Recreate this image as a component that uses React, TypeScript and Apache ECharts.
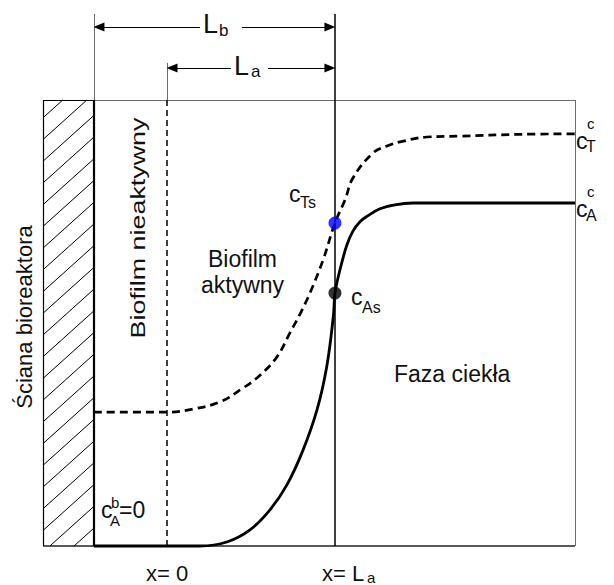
import React, { useEffect, useRef } from "react";
import * as echarts from "echarts";

// Axis frame (x: depth with x = 0 at the active-layer start, La = 10; y: concentration scale)
const X_MIN = -7.38;
const X_MAX = 24.29;
const Y_MAX = 119.28;
const BOX_TOP = 100;
const WALL_X = -4.35;
const X_ZERO = 0;
const LA = 10;
const Y_LB = 116.37;
const Y_LA = 107.17;
const Y_ZERO_GUIDE_TOP = 108.3;

// Gaps left in the dimension arrows for the L_b / L_a labels
const LB_GAP = [1.96, 4.46];
const LA_GAP = [3.81, 6.01];

// Total substrate concentration profile (dashed)
const totalX = [-4.35, 0, 1.55, 3.15, 4.52, 5.54, 6.55, 7.32, 7.92, 8.51, 9.29, 10, 10.6, 11.07, 12.26, 13.1, 13.87, 15.48, 17.44, 21.01, 24.29];
const totalY = [30.0, 30.0, 30.7, 32.3, 35.4, 38.3, 42.4, 47.8, 52.0, 56.7, 64.1, 72.4, 77.6, 82.5, 88.1, 89.7, 90.6, 91.7, 91.9, 92.3, 92.4];

// Available substrate concentration profile (solid)
const availX = [-4.35, 1.96, 3.57, 4.94, 6.13, 7.14, 8.1, 8.93, 9.51, 9.9, 10, 10.18, 10.42, 10.71, 11.07, 11.49, 11.9, 12.68, 13.57, 14.64, 17.44, 24.29];
const availY = [0, 0, 0.9, 3.6, 8.1, 13.7, 21.5, 30.5, 40.2, 51.4, 56.7, 60.1, 63.7, 67.5, 70.6, 72.7, 73.9, 75.6, 76.5, 76.9, 76.9, 76.9];

// Surface concentrations at x = La
const surfaceT = 72.4;
const surfaceA = 56.7;

// Wall hatching (y units)
const HATCH_STEP = 4.87;
const HATCH_SLOPE = 3.39;
const HATCH_PHASE = 32.7;

const FONT = "'Liberation Sans', Arial, sans-serif";
const INK = "#111";

function seg(x1: number, y1: number, x2: number, y2: number, lineStyle: any, s1 = "none", s2 = "none") {
  return [
    { coord: [x1, y1], symbol: s1, lineStyle },
    { coord: [x2, y2], symbol: s2 },
  ];
}

function hatchLines() {
  const w = WALL_X - X_MIN;
  const out: any[] = [];
  const style = { color: "#000", width: 1, type: "solid" };
  let b = HATCH_PHASE - Math.ceil((HATCH_PHASE + HATCH_SLOPE * w) / HATCH_STEP) * HATCH_STEP;
  for (; b < BOX_TOP; b += HATCH_STEP) {
    let x1 = X_MIN, y1 = b;
    if (b < 0) { x1 = X_MIN + -b / HATCH_SLOPE; y1 = 0; }
    let x2 = WALL_X, y2 = b + HATCH_SLOPE * w;
    if (y2 > BOX_TOP) { x2 = X_MIN + (BOX_TOP - b) / HATCH_SLOPE; y2 = BOX_TOP; }
    if (x2 > x1) out.push(seg(x1, y1, x2, y2, style));
  }
  return out;
}

// text helper: x is the left (or centre) position, base is the text baseline in px
function txt(text: string, x: number, base: number, size: number, extra: any = {}) {
  return {
    type: "text",
    x,
    y: base - 0.35 * size,
    z: 20,
    style: {
      text,
      fill: INK,
      font: `${size}px ${FONT}`,
      align: "left",
      verticalAlign: "middle",
      ...extra,
    },
  };
}

export default function App() {
  const ref = useRef<HTMLDivElement>(null);

  useEffect(() => {
    if (!ref.current) return;
    const chart = echarts.init(ref.current, null, { renderer: "svg" });

    const thin = { color: "#6b6b6b", width: 1, type: "solid" };
    const dark = { color: "#000", width: 1.2, type: "solid" };
    const arrowStyle = { color: "#000", width: 1.2, type: "solid" };
    const headInset = 0.3;

    const frameLines = [
      // outer frame
      seg(WALL_X, BOX_TOP, X_MAX, BOX_TOP, thin),
      seg(X_MAX, BOX_TOP, X_MAX, 0, thin),
      seg(X_MIN, 0, X_MAX, 0, { color: "#222", width: 1.6, type: "solid" }),
      seg(X_MIN, BOX_TOP, WALL_X, BOX_TOP, dark),
      seg(X_MIN, 0, X_MIN, BOX_TOP, dark),
      // reactor wall
      seg(WALL_X, 0, WALL_X, BOX_TOP, { color: "#000", width: 2.2, type: "solid" }),
      seg(WALL_X, BOX_TOP, WALL_X, Y_MAX, thin),
      // x = 0
      seg(X_ZERO, 0, X_ZERO, BOX_TOP, { color: "#000", width: 1.5, type: [6, 4] }),
      seg(X_ZERO, BOX_TOP, X_ZERO, Y_ZERO_GUIDE_TOP, thin),
      // x = La (biofilm / liquid interface)
      seg(LA, 0, LA, Y_MAX, { color: "#000", width: 1.5, type: "solid" }),
      // L_b dimension arrow
      seg(WALL_X + headInset, Y_LB, LB_GAP[0], Y_LB, arrowStyle, "triangle", "none"),
      seg(LB_GAP[1], Y_LB, LA - headInset, Y_LB, arrowStyle, "none", "triangle"),
      // L_a dimension arrow
      seg(X_ZERO + headInset, Y_LA, LA_GAP[0], Y_LA, arrowStyle, "triangle", "none"),
      seg(LA_GAP[1], Y_LA, LA - headInset, Y_LA, arrowStyle, "none", "triangle"),
      ...hatchLines(),
    ];

    chart.setOption({
      animation: false,
      grid: { left: 43, right: 39, top: 14, bottom: 39, show: false },
      xAxis: { type: "value", min: X_MIN, max: X_MAX, show: false },
      yAxis: { type: "value", min: 0, max: Y_MAX, show: false },
      series: [
        {
          type: "line",
          name: "frame",
          data: [],
          silent: true,
          markLine: {
            silent: true,
            animation: false,
            symbolSize: [9, 11],
            label: { show: false },
            emphasis: { disabled: true },
            data: frameLines,
          },
        },
        {
          type: "line",
          name: "cT",
          data: totalX.map((x, i) => [x, totalY[i]]),
          showSymbol: false,
          smooth: 0.4,
          clip: false,
          lineStyle: { color: "#000", width: 2.7, type: [8, 5] },
          z: 5,
        },
        {
          type: "line",
          name: "cA",
          data: availX.map((x, i) => [x, availY[i]]),
          showSymbol: false,
          smooth: 0.4,
          clip: false,
          lineStyle: { color: "#000", width: 2.8, type: "solid" },
          z: 5,
        },
        {
          type: "scatter",
          name: "surface",
          symbolSize: 13,
          z: 10,
          data: [
            { value: [LA, surfaceT], itemStyle: { color: "#0000ff" } },
            { value: [LA, surfaceA], itemStyle: { color: "#000" } },
          ],
        },
      ],
      graphic: [
        // dimension labels
        txt("L", 203, 33.3, 27),
        txt("b", 219, 36.7, 17),
        txt("L", 234, 75, 27),
        txt("a", 251, 77.3, 17),
        // bulk concentrations
        txt("c", 576, 149.3, 23),
        txt("c", 587, 128.5, 15),
        txt("T", 586, 152, 16),
        txt("c", 576, 217.3, 23),
        txt("c", 587, 196.5, 15),
        txt("A", 586, 221, 16),
        // surface concentrations
        txt("c", 289, 201.7, 23),
        txt("Ts", 300, 208.3, 16),
        txt("c", 351, 305, 23),
        txt("As", 362, 312.7, 16),
        // wall boundary condition
        txt("c", 101, 518, 23),
        txt("b", 111, 507.5, 15),
        txt("A", 110, 526, 15),
        txt("=0", 119, 518, 23),
        // x positions
        txt("x= 0", 146, 581, 22),
        txt("x= L", 322, 581, 22),
        txt("a", 367, 583, 15),
        // zones
        txt("Faza ciekła", 394, 381.7, 23),
        txt("Biofilm", 242.5, 266.7, 23, { align: "center" }),
        txt("aktywny", 242.5, 292.7, 23, { align: "center" }),
        {
          type: "text",
          x: 24.3,
          y: 317,
          rotation: Math.PI / 2,
          z: 20,
          style: { text: "Ściana bioreaktora", fill: INK, font: `22px ${FONT}`, align: "center", verticalAlign: "middle" },
        },
        {
          type: "text",
          x: 137.6,
          y: 228,
          rotation: Math.PI / 2,
          scaleX: 1.28,
          z: 20,
          style: { text: "Biofilm nieaktywny", fill: INK, font: `21px ${FONT}`, align: "center", verticalAlign: "middle" },
        },
      ],
    });

    return () => chart.dispose();
  }, []);

  return (
    <div
      ref={ref}
      style={{ position: "fixed", left: 0, top: 0, width: 614, height: 585, background: "#fff" }}
    />
  );
}
